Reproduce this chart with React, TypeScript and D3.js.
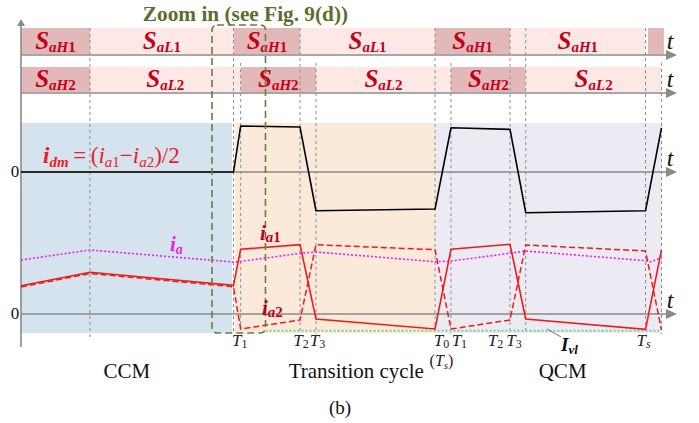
import React from "react";
import * as d3 from "d3";

const W = 699;
const H = 423;
const FONT = "'Liberation Serif', 'Times New Roman', serif";

// ---- switching states (time in % of the drawn window) ----
const row1Start = [0, 10.76, 33.2, 43.53, 64.59, 76.29, 97.82];
const row1End = [10.76, 33.2, 43.53, 64.59, 76.29, 97.43, 100.3];
const row1On = [true, false, true, false, true, false, true];
const row1Subs = ["aH1", "aL1", "aH1", "aL1", "aH1", "aH1", ""];

const row2Start = [0, 10.76, 34.27, 46.02, 67.08, 78.74];
const row2End = [10.76, 34.27, 46.02, 67.08, 78.74, 99.92];
const row2On = [true, false, true, false, true, false];
const row2Subs = ["aH2", "aL2", "aH2", "aL2", "aH2", "aL2"];

// ---- operating modes ----
const phaseNames = ["CCM", "Transition cycle", "QCM"];
const phaseStart = [0, 33.39, 64.59];
const phaseEnd = [32.92, 64.59, 99.92];
const phaseLabelT = [16.5, 52.3, 84.5];

// ---- event instants (dashed guides) ----
const gridT = [10.76, 33.15, 34.27, 43.53, 46.02, 64.59, 67.08, 76.29, 78.74, 97.43, 99.92];
const gridFromRow = [1, 1, 2, 1, 2, 1, 2, 1, 1, 1, 2];

// ---- instant labels ----
const tickT = [34.27, 43.53, 46.02, 64.59, 67.08, 76.29, 78.74, 97.43];
const tickMain = ["T", "T", "T", "T", "T", "T", "T", "T"];
const tickSub = ["1", "2", "3", "0", "1", "2", "3", "s"];
const tickNudge = [-1, 1, 1.5, 6.5, 8.4, -14.5, -11.7, -2];

// ---- differential-mode current ----
const idmT = [0, 33.15, 34.27, 43.53, 46.02, 64.59, 67.08, 76.29, 78.74, 97.43, 99.92];
const idmV = [0, 0, 4.0, 3.91, -3.37, -3.22, 3.85, 3.71, -3.54, -3.37, 3.83];

// ---- phase currents ----
const curT = [0, 10.76, 33.15, 34.27, 43.53, 46.02, 64.59, 67.08, 76.29, 78.74, 97.43, 99.92];
const ia1V = [2.83, 4.17, 2.87, 6.47, 6.93, -0.5, -1.5, 6.47, 6.97, -0.5, -1.53, 6.4];
const ia2V = [2.7, 4.05, 2.72, -1.5, -0.6, 6.93, 6.43, -1.5, -0.6, 6.9, 6.3, -1.6];
const iaT = [0, 10.76, 33.15, 34.27, 43.53, 46.02, 64.59, 67.08, 76.29, 78.74, 97.43, 98.13, 99.92];
const iaV = [5.4, 6.4, 5.2, 5.25, 6.07, 6.2, 5.23, 5.3, 6.07, 6.3, 5.33, 5.2, 5.6];

// valley current level
const ivlV = -1.67;
const ivlT = [38.14, 99.92];

// zoom window
const zoomT = [29.8, 38.14];

type Part = { t: string; sub?: boolean; up?: boolean; bold?: boolean };

function Rich(props: {
  x: number;
  y: number;
  parts: Part[];
  size: number;
  subSize: number;
  subDy: number;
  fill: string;
  anchor?: string;
  bold?: boolean;
  italic?: boolean;
}) {
  const { x, y, parts, size, subSize, subDy, fill, anchor = "start", bold = false, italic = true } = props;
  let cur = 0;
  return (
    <text
      x={x}
      y={y}
      textAnchor={anchor}
      fill={fill}
      fontFamily={FONT}
      fontSize={size}
      fontWeight={bold ? "bold" : "normal"}
      fontStyle={italic ? "italic" : "normal"}
    >
      {parts.map((p, i) => {
        const target = p.sub ? subDy : 0;
        const dy = target - cur;
        cur = target;
        return (
          <tspan
            key={i}
            dy={dy}
            fontSize={p.sub ? subSize : size}
            fontStyle={p.up ? "normal" : undefined}
            fontWeight={p.bold === undefined ? undefined : p.bold ? "bold" : "normal"}
          >
            {p.t}
          </tspan>
        );
      })}
    </text>
  );
}

function switchParts(sub: string): Part[] {
  const letters = sub.replace(/[0-9]/g, "");
  const digits = sub.replace(/[^0-9]/g, "");
  return [
    { t: "S" },
    { t: letters, sub: true },
    { t: digits, sub: true, up: true },
  ];
}

export default function App() {
  const x = d3.scaleLinear().domain([0, 100]).range([21, 662]);
  const yIdm = d3.scaleLinear().domain([-4, 4]).range([218, 126]);
  const yCur = d3.scaleLinear().domain([-2, 8]).range([334, 234]);

  const lineIdm = d3
    .line<number>()
    .x((_, i) => x(idmT[i]))
    .y((v) => yIdm(v));
  const lineCur = d3
    .line<number>()
    .x((_, i) => x(curT[i]))
    .y((v) => yCur(v));
  const lineIa = d3
    .line<number>()
    .x((_, i) => x(iaT[i]))
    .y((v) => yCur(v));

  const axisColor = "#8a8a8a";
  const bgColors = ["#d5e3ee", "#fbe9da", "#ecebf3"];
  const onFill = "#e3b8b8";
  const offFill = "#fde8e6";
  const labelRed = "#c40016";
  const traceRed = "#ee1b1b";

  const row1 = { top: 28, bottom: 54, axis: 55, base: 49 };
  const row2 = { top: 67, bottom: 92, axis: 93, base: 87 };
  const idmZero = yIdm(0);
  const curZero = yCur(0);
  const axisEnd = 668;

  const hAxis = (y: number, key: string) => (
    <g key={key}>
      <line x1={21} x2={axisEnd} y1={y} y2={y} stroke={axisColor} strokeWidth={1.6} />
      <polygon points={`${axisEnd - 2},${y - 5} ${677},${y} ${axisEnd - 2},${y + 5}`} fill={axisColor} />
    </g>
  );

  const rows = [
    { r: row1, s: row1Start, e: row1End, on: row1On, subs: row1Subs },
    { r: row2, s: row2Start, e: row2End, on: row2On, subs: row2Subs },
  ];

  return (
    <svg width={W} height={H} style={{ position: "absolute", left: 0, top: 0, background: "#fff" }}>
      {/* mode backgrounds */}
      {phaseNames.map((n, i) => (
        <rect
          key={n}
          x={x(phaseStart[i])}
          y={123}
          width={x(phaseEnd[i]) - x(phaseStart[i])}
          height={210}
          fill={bgColors[i]}
        />
      ))}

      {/* gate signal bands */}
      {rows.map((row, ri) =>
        row.s.map((s, i) => (
          <rect
            key={`b${ri}-${i}`}
            x={x(s)}
            y={row.r.top}
            width={x(row.e[i]) - x(s)}
            height={row.r.bottom - row.r.top}
            fill={row.on[i] ? onFill : offFill}
          />
        ))
      )}

      {/* axes */}
      {hAxis(row1.axis, "a1")}
      {hAxis(row2.axis, "a2")}
      {hAxis(idmZero, "a3")}
      {hAxis(curZero, "a4")}
      <line x1={21} x2={21} y1={347} y2={25} stroke={axisColor} strokeWidth={1.6} />
      <polygon points={`17,26 21,19 25,26`} fill={axisColor} />

      {/* event guides */}
      {gridT.map((t, i) => (
        <line
          key={`g${i}`}
          x1={x(t)}
          x2={x(t)}
          y1={gridFromRow[i] === 1 ? row1.top : 63}
          y2={i === 0 ? 338 : 334}
          stroke="#8f8f8f"
          strokeWidth={1}
          strokeDasharray="3,3"
        />
      ))}

      {/* gate labels */}
      {rows.map((row, ri) =>
        row.s.map((s, i) =>
          row.subs[i] ? (
            <Rich
              key={`l${ri}-${i}`}
              x={(x(s) + x(row.e[i])) / 2}
              y={row.r.base}
              parts={switchParts(row.subs[i])}
              size={25}
              subSize={15}
              subDy={3}
              fill={labelRed}
              anchor="middle"
              bold
            />
          ) : null
        )
      )}

      {/* t labels */}
      {[row1.base, row2.base, idmZero - 6, curZero - 6].map((yy, i) => (
        <text key={`t${i}`} x={670} y={yy} textAnchor="middle" fontFamily={FONT} fontStyle="italic" fontSize={24} fill="#111">
          t
        </text>
      ))}

      {/* zero labels */}
      {[idmZero, curZero].map((yy, i) => (
        <text key={`z${i}`} x={15} y={yy + 5} textAnchor="middle" fontFamily={FONT} fontSize={17} fill="#111">
          0
        </text>
      ))}

      {/* valley current level */}
      <line
        x1={x(ivlT[0])}
        x2={x(ivlT[1])}
        y1={yCur(ivlV)}
        y2={yCur(ivlV)}
        stroke="#7fcf95"
        strokeWidth={2}
        strokeDasharray="2,2"
      />

      {/* traces */}
      <path d={lineIdm(idmV) || ""} fill="none" stroke="#000" strokeWidth={1.6} strokeLinejoin="round" />
      <path d={lineIa(iaV) || ""} fill="none" stroke="#f01cf0" strokeWidth={1.6} strokeDasharray="2,2" />
      <path d={lineCur(ia2V) || ""} fill="none" stroke={traceRed} strokeWidth={1.5} strokeDasharray="6,3" />
      <path d={lineCur(ia1V) || ""} fill="none" stroke={traceRed} strokeWidth={1.6} />

      {/* zoom window */}
      <rect
        x={x(zoomT[0])}
        y={25}
        width={x(zoomT[1]) - x(zoomT[0])}
        height={308}
        rx={5}
        fill="none"
        stroke="#6a7d3c"
        strokeWidth={1.6}
        strokeDasharray="7,4"
      />
      <text x={245.5} y={20.5} textAnchor="middle" fontFamily={FONT} fontWeight="bold" fontSize={21.3} fill="#5b6e2d">
        Zoom in (see Fig. 9(d))
      </text>

      {/* trace labels */}
      <Rich
        x={43}
        y={163}
        size={23}
        subSize={15}
        subDy={4}
        fill="#ee1c25"
        parts={[
          { t: "i", bold: true },
          { t: "dm", sub: true, bold: true },
          { t: "\u2009=\u2009(", up: true },
          { t: "i" },
          { t: "a", sub: true },
          { t: "1", sub: true, up: true },
          { t: "−", up: true },
          { t: "i" },
          { t: "a", sub: true },
          { t: "2", sub: true, up: true },
          { t: ")/2", up: true },
        ]}
      />
      <Rich x={170} y={251} size={21} subSize={14} subDy={3} fill="#f01cf0" bold parts={[{ t: "i" }, { t: "a", sub: true }]} />
      <Rich
        x={260}
        y={240}
        size={21}
        subSize={15}
        subDy={2}
        fill="#c0001a"
        bold
        parts={[{ t: "i" }, { t: "a", sub: true }, { t: "1", sub: true, up: true }]}
      />
      <Rich
        x={262}
        y={315}
        size={21}
        subSize={15}
        subDy={2}
        fill="#c0001a"
        bold
        parts={[{ t: "i" }, { t: "a", sub: true }, { t: "2", sub: true, up: true }]}
      />
      <line x1={547} y1={329} x2={561} y2={337} stroke="#777" strokeWidth={1} />
      <Rich x={561} y={351} size={19} subSize={13} subDy={3} fill="#111" bold parts={[{ t: "I" }, { t: "vl", sub: true }]} />

      {/* instant labels */}
      {tickT.map((t, i) => (
        <Rich
          key={`k${i}`}
          x={x(t) + tickNudge[i]}
          y={346}
          size={17}
          subSize={12}
          subDy={2}
          fill="#222"
          anchor="middle"
          parts={[{ t: tickMain[i] }, { t: tickSub[i], sub: true, up: tickSub[i] !== "s" }]}
        />
      ))}
      <Rich
        x={441.5}
        y={366}
        size={16}
        subSize={11}
        subDy={3}
        fill="#222"
        anchor="middle"
        parts={[{ t: "(", up: true }, { t: "T" }, { t: "s", sub: true }, { t: ")", up: true }]}
      />

      {/* mode names */}
      {phaseNames.map((n, i) => (
        <text key={`p${i}`} x={x(phaseLabelT[i])} y={378} textAnchor="middle" fontFamily={FONT} fontSize={21} fill="#111">
          {n}
        </text>
      ))}
      <text x={340} y={414} textAnchor="middle" fontFamily={FONT} fontSize={19} fill="#111">
        (b)
      </text>
    </svg>
  );
}
